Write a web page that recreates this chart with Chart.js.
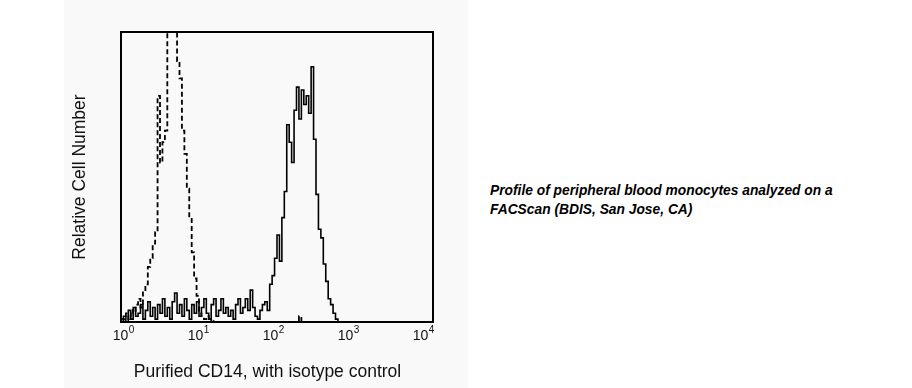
<!DOCTYPE html>
<html lang="en">
<head>
    <meta charset="UTF-8">
    <title>Purified CD14, with isotype control</title>
    <style>
        * { margin: 0; padding: 0; box-sizing: border-box; }
        body { width: 912px; height: 388px; background: #fff; position: relative; overflow: hidden; font-family: "Liberation Sans", Arial, sans-serif; }
        .panel { position: absolute; left: 64px; top: 0; width: 404px; height: 388px; background: #f9f9f9; }
        .caption { position: absolute; left: 490px; top: 181px; font-size: 13.8px; line-height: 19px; font-weight: bold; font-style: italic; color: #000; }
    </style>
    <script src="https://cdn.jsdelivr.net/npm/chart.js"></script>
</head>
<body>
    <div class="panel"><canvas id="facsChart"></canvas></div>
    <div class="caption">Profile of peripheral blood monocytes analyzed on a<br>FACScan (BDIS, San Jose, CA)</div>

    <script>
        // channel counts, 128 log channels over 4 decades (32 per decade)
        const cd14Counts = [
            3, 1, 2, 0, 4, 1, 5, 2, 3, 6,
            1, 4, 7, 2, 5, 1, 6, 3, 8, 2,
            5, 1, 7, 10, 3, 6, 2, 8, 4, 1,
            6, 3, 7, 2, 5, 8, 3, 1, 6, 8,
            2, 4, 8, 3, 5, 2, 4, 1, 6, 8,
            3, 5, 8, 4, 11, 5, 2, 1, 4, 6,
            7, 4, 13, 16, 22, 30, 21, 36, 45, 68,
            62, 55, 73, 81, 70, 80, 75, 78, 72, 88,
            63, 44, 32, 29, 20, 14, 8, 6, 3, 1,
            0, 0, 0, 0, 0, 0, 0, 0, 0, 0,
            0, 0, 0, 0, 0, 0, 0, 0, 0, 0,
            0, 0, 0, 0, 0, 0, 0, 0, 0, 0,
            0, 0, 0, 0, 0, 0, 0, 0
        ];
        const isotypeCounts = [
            2, 0, 1, 3, 1, 4, 3, 6, 8, 5,
            11, 13, 19, 22, 27, 31, 78, 55, 62, 66,
            112, 130, 125, 128, 90, 84, 66, 58, 46, 36,
            24, 15, 9, 3, 2, 1, 2, 0, 1, 0,
            0, 0, 0, 0, 0, 0, 0, 0, 0, 0,
            0, 0, 0, 0, 0, 0, 0, 0, 0, 0,
            0, 0, 0, 0, 0, 0, 0, 0, 0, 0,
            0, 0, 0, 0, 2, 0, 0, 0, 0, 0,
            0, 0, 0, 0, 0, 0, 0, 0, 0, 0,
            0, 0, 0, 0, 0, 0, 0, 0, 0, 0,
            0, 0, 0, 0, 0, 0, 0, 0, 0, 0,
            0, 0, 0, 0, 0, 0, 0, 0, 0, 0,
            0, 0, 0, 0, 0, 0, 0, 0
        ];
        const decadeChannels = [0, 32, 64, 96, 128];
        const decadeExponents = ['0', '1', '2', '3', '4'];

        const xTitle = 'Purified CD14, with isotype control';
        const yTitle = 'Relative Cell Number';

        function toSteps(counts) {
            const pts = counts.map((v, i) => ({ x: i, y: v }));
            pts.push({ x: counts.length, y: counts[counts.length - 1] });
            return pts;
        }

        // frame, decade labels and axis titles
        const facsDecor = {
            id: 'facsDecor',
            afterDatasetsDraw(chart) {
                const { ctx, chartArea: a, scales } = chart;
                ctx.save();
                ctx.strokeStyle = '#000';
                ctx.lineWidth = 2;
                ctx.strokeRect(a.left, a.top, a.right - a.left, a.bottom - a.top);

                ctx.fillStyle = '#111';
                ctx.textBaseline = 'alphabetic';
                decadeChannels.forEach((ch, i) => {
                    const px = scales.x.getPixelForValue(ch) - 0.5 - 3 * i;
                    ctx.font = '14px "Liberation Sans", Arial, sans-serif';
                    ctx.textAlign = 'center';
                    ctx.fillText('10', px, a.bottom + 18);
                    const w = ctx.measureText('10').width;
                    ctx.font = '10px "Liberation Sans", Arial, sans-serif';
                    ctx.textAlign = 'left';
                    ctx.fillText(decadeExponents[i], px + w / 2 + 0.5, a.bottom + 11);
                });

                ctx.font = '17.5px "Liberation Sans", Arial, sans-serif';
                ctx.textAlign = 'center';
                ctx.fillText(xTitle, (a.left + a.right) / 2 - 9.5, a.bottom + 55);

                ctx.translate(a.left - 36, (a.top + a.bottom) / 2);
                ctx.rotate(-Math.PI / 2);
                ctx.fillText(yTitle, 0, 0);
                ctx.restore();
            }
        };

        const chart = new Chart(document.getElementById('facsChart'), {
            type: 'line',
            data: {
                datasets: [
                    {
                        label: 'Isotype control',
                        data: toSteps(isotypeCounts),
                        borderColor: '#000',
                        borderWidth: 1.8,
                        borderDash: [5, 3],
                        stepped: 'after',
                        pointRadius: 0,
                        fill: false
                    },
                    {
                        label: 'Purified CD14',
                        data: toSteps(cd14Counts),
                        borderColor: '#000',
                        borderWidth: 1.6,
                        stepped: 'after',
                        pointRadius: 0,
                        fill: false
                    }
                ]
            },
            options: {
                responsive: true,
                maintainAspectRatio: false,
                animation: false,
                layout: { padding: { left: 57, right: 35, top: 32, bottom: 66 } },
                plugins: { legend: { display: false }, tooltip: { enabled: false } },
                scales: {
                    x: { type: 'linear', min: 0, max: 128, display: false },
                    y: { type: 'linear', min: 0, max: 100, display: false }
                }
            },
            plugins: [facsDecor]
        });
    </script>
</body>
</html>
